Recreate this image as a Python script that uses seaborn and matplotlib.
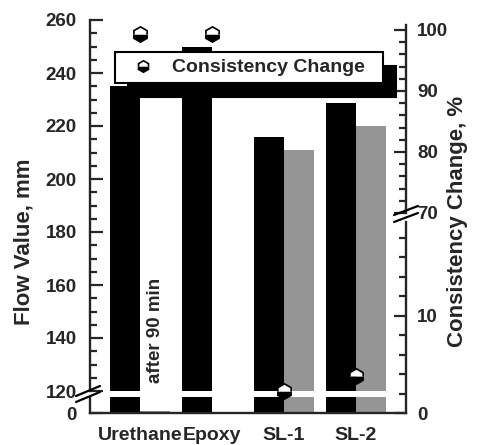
import matplotlib.pyplot as plt
import pandas as pd
import seaborn as sns
from matplotlib.lines import Line2D
from matplotlib.ticker import MultipleLocator

sns.set_style("white")
plt.rcParams["font.family"] = ["Liberation Sans", "DejaVu Sans"]
plt.rcParams["font.weight"] = "bold"

materials = ["Urethane", "Epoxy", "SL-1", "SL-2"]
flow_initial = [235, 250, 216, 228.5]
flow_90min = [0.8, 0.4, 211, 220]
consistency = [99.3, 99.3, 2.3, 3.8]
series = ["initial", "after 90 min"]
bar_colors = ["black", "#959595"]

flow = pd.DataFrame({
    "material": materials * 2,
    "time": [series[0]] * len(materials) + [series[1]] * len(materials),
    "flow": flow_initial + flow_90min,
})

W, H = 480, 445


def box(left, top, right, bottom):
    return [left / W, 1 - bottom / H, (right - left) / W, (bottom - top) / H]


def px(x, y):
    return x / W, 1 - y / H


fig = plt.figure(figsize=(W / 100, H / 100), dpi=100)
top_l = fig.add_axes(box(90, 20, 406, 391))
bot_l = fig.add_axes(box(90, 397, 406, 413))
top_r = fig.add_axes(box(90, 25, 406, 213))
bot_r = fig.add_axes(box(90, 222, 406, 413))

for ax in (top_l, bot_l):
    sns.barplot(data=flow, x="material", y="flow", hue="time", hue_order=series,
                palette=bar_colors, width=0.84, gap=0, saturation=1, linewidth=0,
                errorbar=None, legend=False, ax=ax)
    ax.set_xlabel("")
    ax.set_ylabel("")

mk = dict(marker="h", markersize=11, fillstyle="bottom", color="black",
          markerfacecoloralt="white", markeredgecolor="black",
          markeredgewidth=1.2, linestyle="none")
for ax in (top_r, bot_r):
    (handle,) = ax.plot(materials, consistency, **mk)
    ax.patch.set_visible(False)
    ax.yaxis.tick_right()
    ax.tick_params(axis="x", bottom=False, labelbottom=False)

top_l.set_ylim(120, 260)
bot_l.set_ylim(0, 6)
top_r.set_ylim(70, 100.8)
bot_r.set_ylim(0, 19.6)
for ax in (top_l, bot_l, top_r, bot_r):
    ax.set_xlim(-0.7, 3.7)
    for s in ax.spines.values():
        s.set_visible(False)
        s.set_linewidth(1.7)

top_l.spines["left"].set_visible(True)
bot_l.spines["left"].set_visible(True)
bot_l.spines["bottom"].set_visible(True)
top_r.spines["right"].set_visible(True)
bot_r.spines["right"].set_visible(True)

top_l.set_yticks(range(120, 261, 20))
top_l.yaxis.set_minor_locator(MultipleLocator(5))
bot_l.set_yticks([0])
top_r.set_yticks(range(70, 101, 10))
top_r.yaxis.set_minor_locator(MultipleLocator(2))
bot_r.set_yticks([0, 10])
bot_r.yaxis.set_minor_locator(MultipleLocator(2))

for ax, pad, side in ((top_l, 9.5, "left"), (bot_l, 9.5, "left"),
                      (top_r, 8, "right"), (bot_r, 8, "right")):
    on = {"left": side == "left", "right": side == "right"}
    ax.tick_params(axis="y", which="major", direction="in", length=9, width=1.6,
                   pad=pad, labelsize=13.5, **on)
    ax.tick_params(axis="y", which="minor", direction="in", length=5, width=1.6,
                   **on)
top_l.tick_params(axis="x", bottom=False, labelbottom=False)
bot_l.tick_params(axis="x", length=0, pad=10, labelsize=14)

top_l.text(0.21, 143, "after 90 min", rotation=90, ha="center", va="center",
           fontsize=13.5, fontweight="bold")

fig.text(*px(24, 242), "Flow Value, mm", rotation=90, ha="center", va="center",
         fontsize=16, fontweight="bold")
fig.text(*px(458, 221), "Consistency Change, %", rotation=90, ha="center",
         va="center", fontsize=16, fontweight="bold")

# axis break marks
for (x1, y1, x2, y2) in [(76, 396, 100, 386), (76, 402, 100, 392),
                         (394, 215, 418, 206), (394, 222, 418, 213)]:
    fig.add_artist(Line2D([x1 / W, x2 / W], [1 - y1 / H, 1 - y2 / H],
                          transform=fig.transFigure, color="black", lw=1.6))

leg = fig.legend(handles=[handle], labels=["Consistency Change"], loc="upper left",
                 bbox_to_anchor=(115 / W, 1 - 83 / H, 268 / W, 31 / H),
                 mode="expand", frameon=True, fancybox=False,
                 framealpha=1, edgecolor="black", borderaxespad=0, borderpad=0.35,
                 handlelength=2.2, handletextpad=0.4, markerscale=0.75,
                 prop=dict(size=14, weight="bold"),
                 shadow=dict(ox=9.7, oy=-10, facecolor="black",
                             edgecolor="black", alpha=1))
leg.get_frame().set_linewidth(1.5)

fig.savefig("out.png", dpi=100)
